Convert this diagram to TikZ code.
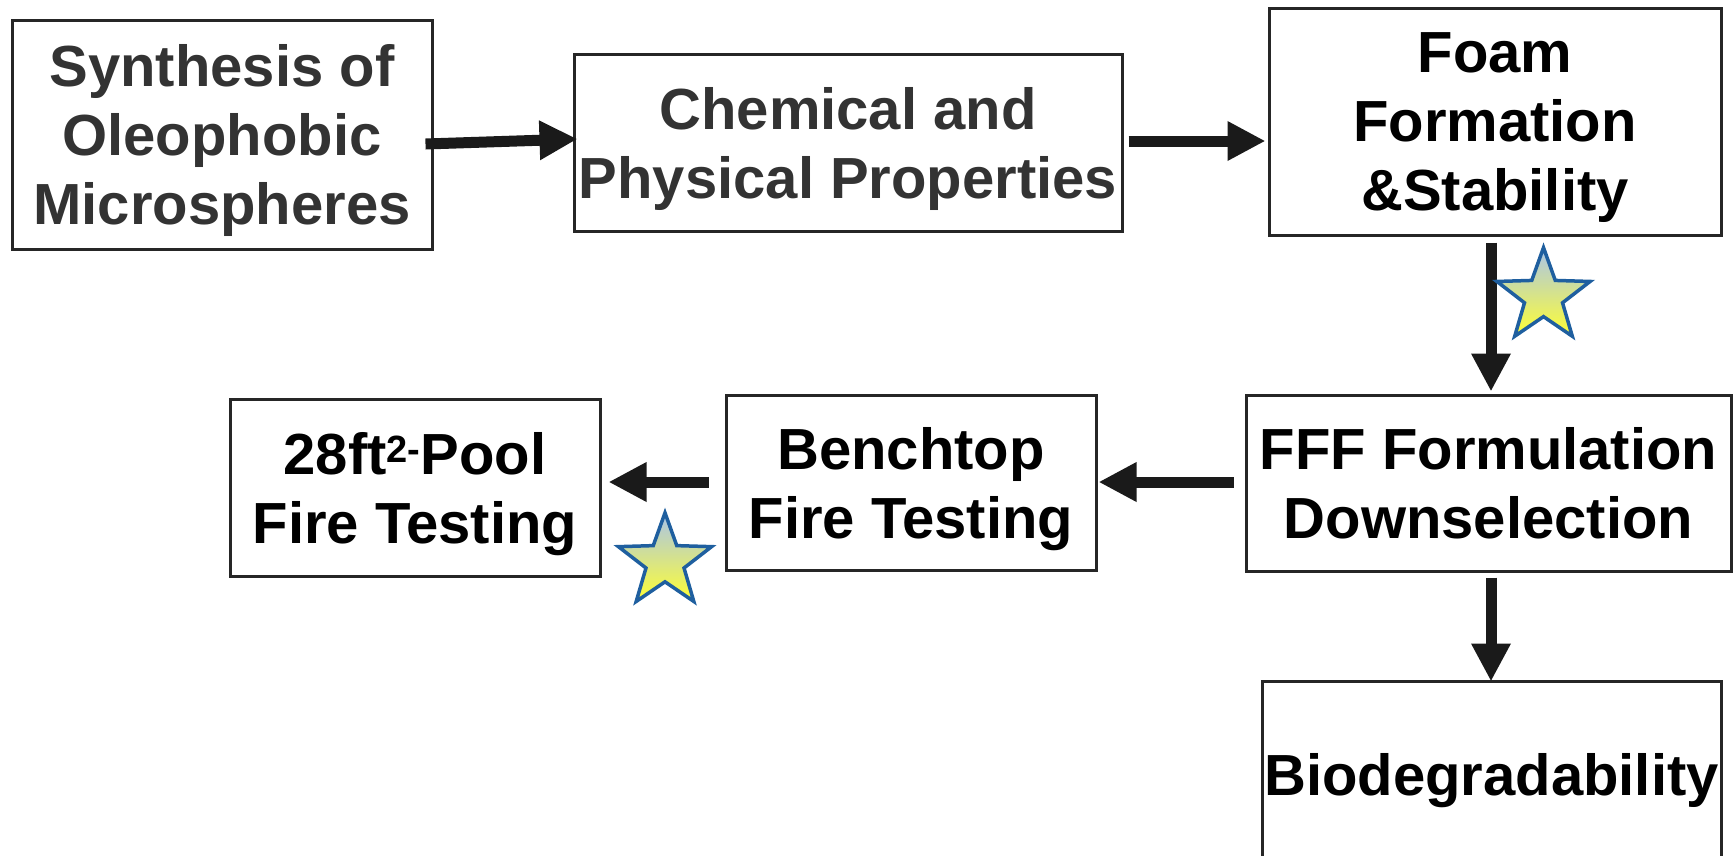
\documentclass[tikz,border=0pt]{standalone}
\usepackage{fontspec}
\setmainfont{Liberation Sans}
\usetikzlibrary{arrows.meta}
\definecolor{boxline}{HTML}{262626}
\definecolor{graytext}{HTML}{333333}
\definecolor{starblue}{HTML}{A9C4EB}
\definecolor{staryellow}{HTML}{FFFF33}
\definecolor{staredge}{HTML}{1F5F9F}
\definecolor{arrowcol}{HTML}{1A1A1A}
\tikzset{
  stagebox/.style={draw=boxline, line width=3pt, inner sep=0pt, align=center,
    text depth=0pt, font=\fontsize{58}{69}\selectfont\bfseries},
  flowarrow/.style={draw=arrowcol, line width=11pt,
    -{Triangle[length=38pt,width=37pt]}},
  starshape/.style={draw=staredge, line width=3.5pt, line join=miter,
    top color=starblue, bottom color=staryellow}
}
\newcommand{\starat}[1]{%
  \shade[starshape] (#1) +(-90:49) -- +(-54:20) -- +(-18:49) -- +(18:20)
    -- +(54:49) -- +(90:20) -- +(126:49) -- +(162:20) -- +(-162:49)
    -- +(-126:20) -- cycle;}
\newcommand{\supr}[1]{\raisebox{12pt}{\fontsize{38}{38}\selectfont #1}}
\begin{document}
\begin{tikzpicture}[x=1pt,y=-1pt]
\useasboundingbox (0,0) rectangle (1733,855);
\node[stagebox, text=graytext, minimum width=420pt, minimum height=229pt] (b1) at (222,134.5)
  {Synthesis of\\Oleophobic\\Microspheres};
\node[stagebox, text=graytext, minimum width=548pt, minimum height=177pt] (b2) at (848,142.5)
  {Chemical and\\Physical Properties};
\node[stagebox, minimum width=452pt, minimum height=227pt] (b3) at (1495,121.5)
  {Foam\\Formation\\\&Stability};
\node[stagebox, minimum width=485pt, minimum height=176pt] (b4) at (1488.5,483)
  {FFF Formulation\\Downselection};
\node[stagebox, minimum width=370pt, minimum height=175pt] (b5) at (911,482.5)
  {Benchtop\\Fire Testing};
\node[stagebox, minimum width=370pt, minimum height=177pt] (b6) at (415,487.5)
  {28ft\supr{2-}Pool\\Fire Testing};
\node[stagebox, minimum width=459pt, minimum height=189pt] (b7) at (1491.5,775.5)
  {\raisebox{3pt}{Biodegradability}};

\draw[flowarrow] ([xshift=-8pt,yshift=-9.5pt]b1.east) -- ([xshift=5pt,yshift=3.5pt]b2.west);
\draw[flowarrow] ([xshift=5pt,yshift=1.5pt]b2.east) -- ([xshift=-2pt,yshift=-19.5pt]b3.west);
\draw[flowarrow] ([xshift=-4pt,yshift=-6pt]b3.south) -- ([xshift=2.5pt,yshift=2pt]b4.north);
\draw[flowarrow] ([xshift=-11pt,yshift=1pt]b4.west) -- ([xshift=1pt,yshift=0.5pt]b5.east);
\draw[flowarrow] ([xshift=-16pt,yshift=0.5pt]b5.west) -- ([xshift=7pt,yshift=5.5pt]b6.east);
\draw[flowarrow] ([xshift=2.5pt,yshift=-5pt]b4.south) -- ([xshift=-0.5pt,yshift=-2pt]b7.north);

\coordinate (s1) at (1543.5,296.6);
\coordinate (s2) at (665,561.8);
\starat{s1}
\starat{s2}
\end{tikzpicture}
\end{document}
